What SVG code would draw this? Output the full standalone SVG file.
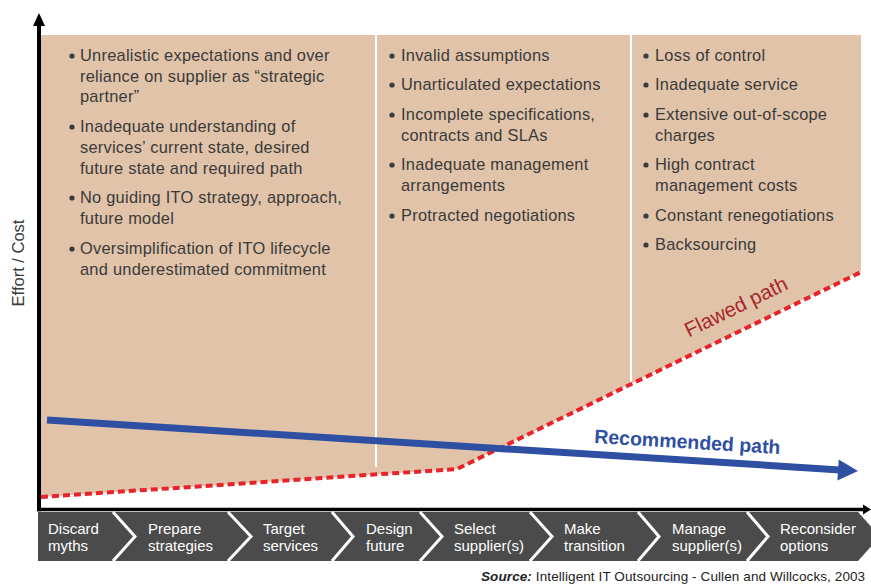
<svg xmlns="http://www.w3.org/2000/svg" width="871" height="584" viewBox="0 0 871 584">
<style>
  .body { font-family: "Liberation Sans", Arial, sans-serif; font-size: 16.4px; letter-spacing: 0.25px; fill: #3a3a3a; }
  .stage { font-family: "Liberation Sans", Arial, sans-serif; font-size: 15px; fill: #ffffff; }
  .sep { stroke: #ffffff; stroke-width: 3; fill: none; }
  .col { stroke: #ffffff; stroke-width: 2; }
  .bullet { fill: #3a3a3a; }
</style>
<rect width="871" height="584" fill="#ffffff"/>

<!-- risk area -->
<g id="risk-area">
  <polygon points="41,35 861,35 861,271 457,469 41,497" fill="#e0c3a8"/>
  <line class="col" x1="376" y1="35" x2="376" y2="467"/>
  <line class="col" x1="631" y1="35" x2="631" y2="383"/>
</g>

<g id="column-1" class="body">
  <circle class="bullet" cx="72" cy="56" r="2.6"/>
  <text x="80" y="61">Unrealistic expectations and over</text>
  <text x="80" y="82">reliance on supplier as “strategic</text>
  <text x="80" y="102">partner”</text>
  <circle class="bullet" cx="72" cy="127" r="2.6"/>
  <text x="80" y="132">Inadequate understanding of</text>
  <text x="80" y="153">services’ current state, desired</text>
  <text x="80" y="174">future state and required path</text>
  <circle class="bullet" cx="72" cy="198" r="2.6"/>
  <text x="80" y="203">No guiding ITO strategy, approach,</text>
  <text x="80" y="224">future model</text>
  <circle class="bullet" cx="72" cy="249" r="2.6"/>
  <text x="80" y="254">Oversimplification of ITO lifecycle</text>
  <text x="80" y="275">and underestimated commitment</text>
</g>

<g id="column-2" class="body">
  <circle class="bullet" cx="392" cy="56" r="2.6"/>
  <text x="401" y="61">Invalid assumptions</text>
  <circle class="bullet" cx="392" cy="85" r="2.6"/>
  <text x="401" y="90">Unarticulated expectations</text>
  <circle class="bullet" cx="392" cy="115" r="2.6"/>
  <text x="401" y="120">Incomplete specifications,</text>
  <text x="401" y="141">contracts and SLAs</text>
  <circle class="bullet" cx="392" cy="165" r="2.6"/>
  <text x="401" y="170">Inadequate management</text>
  <text x="401" y="191">arrangements</text>
  <circle class="bullet" cx="392" cy="216" r="2.6"/>
  <text x="401" y="221">Protracted negotiations</text>
</g>

<g id="column-3" class="body">
  <circle class="bullet" cx="646" cy="56" r="2.6"/>
  <text x="655" y="61">Loss of control</text>
  <circle class="bullet" cx="646" cy="85" r="2.6"/>
  <text x="655" y="90">Inadequate service</text>
  <circle class="bullet" cx="646" cy="115" r="2.6"/>
  <text x="655" y="120">Extensive out-of-scope</text>
  <text x="655" y="141">charges</text>
  <circle class="bullet" cx="646" cy="165" r="2.6"/>
  <text x="655" y="170">High contract</text>
  <text x="655" y="191">management costs</text>
  <circle class="bullet" cx="646" cy="216" r="2.6"/>
  <text x="655" y="221">Constant renegotiations</text>
  <circle class="bullet" cx="646" cy="245" r="2.6"/>
  <text x="655" y="250">Backsourcing</text>
</g>

<!-- connectors / paths -->
<g id="connectors">
  <polyline points="41,497 457,469 861,272" fill="none" stroke="#e8232a" stroke-width="4" stroke-dasharray="7,4"/>
  <line x1="47" y1="420" x2="840" y2="469.9" stroke="#2f4fa3" stroke-width="7"/>
  <polygon points="858,471 837.4,480.5 838.7,459.5" fill="#2f4fa3"/>
</g>

<g id="labels">
  <text x="739" y="313" transform="rotate(-26 739 313)" text-anchor="middle" font-family="Liberation Sans, Arial, sans-serif" font-size="20.5" fill="#a8272d">Flawed path</text>
  <text x="687" y="448.5" transform="rotate(3.4 687 448.5)" text-anchor="middle" font-family="Liberation Sans, Arial, sans-serif" font-size="19.5" font-weight="bold" fill="#2f4fa3">Recommended path</text>
</g>

<!-- axes -->
<g id="axes">
  <line x1="39" y1="22" x2="39" y2="511.3" stroke="#000000" stroke-width="4"/>
  <polygon points="39,13 33,26 45,26" fill="#000000"/>
  <line x1="37" y1="509.5" x2="865" y2="509.5" stroke="#000000" stroke-width="3.5"/>
  <polygon points="871,509.5 863,504.5 863,514.5" fill="#000000"/>
  <text x="24" y="263" transform="rotate(-90 24 263)" text-anchor="middle" font-family="Liberation Sans, Arial, sans-serif" font-size="16.5" fill="#3a3a3a">Effort / Cost</text>
</g>

<!-- lifecycle band -->
<g id="lifecycle">
  <polygon points="38,512 858,512 880,536.5 858,561 38,561" fill="#4b4b4b"/>
  <polyline class="sep" points="113,512 135,536.5 113,561"/>
  <polyline class="sep" points="228,512 251,536.5 228,561"/>
  <polyline class="sep" points="332,512 353,536.5 332,561"/>
  <polyline class="sep" points="420,512 442,536.5 420,561"/>
  <polyline class="sep" points="530,512 552,536.5 530,561"/>
  <polyline class="sep" points="638,512 659,536.5 638,561"/>
  <polyline class="sep" points="747,512 768,536.5 747,561"/>
</g>
<g id="stage-1" class="stage"><text x="48" y="534">Discard</text><text x="48" y="551">myths</text></g>
<g id="stage-2" class="stage"><text x="148" y="534">Prepare</text><text x="148" y="551">strategies</text></g>
<g id="stage-3" class="stage"><text x="263" y="534">Target</text><text x="263" y="551">services</text></g>
<g id="stage-4" class="stage"><text x="366" y="534">Design</text><text x="366" y="551">future</text></g>
<g id="stage-5" class="stage"><text x="454" y="534">Select</text><text x="454" y="551">supplier(s)</text></g>
<g id="stage-6" class="stage"><text x="564" y="534">Make</text><text x="564" y="551">transition</text></g>
<g id="stage-7" class="stage"><text x="672" y="534">Manage</text><text x="672" y="551">supplier(s)</text></g>
<g id="stage-8" class="stage"><text x="780" y="534">Reconsider</text><text x="780" y="551">options</text></g>

<g id="source">
  <text x="481" y="581" font-family="Liberation Sans, Arial, sans-serif" font-size="13.5" letter-spacing="0.1" fill="#222222"><tspan font-weight="bold" font-style="italic">Source:</tspan> Intelligent IT Outsourcing - Cullen and Willcocks, 2003</text>
</g>
</svg>
